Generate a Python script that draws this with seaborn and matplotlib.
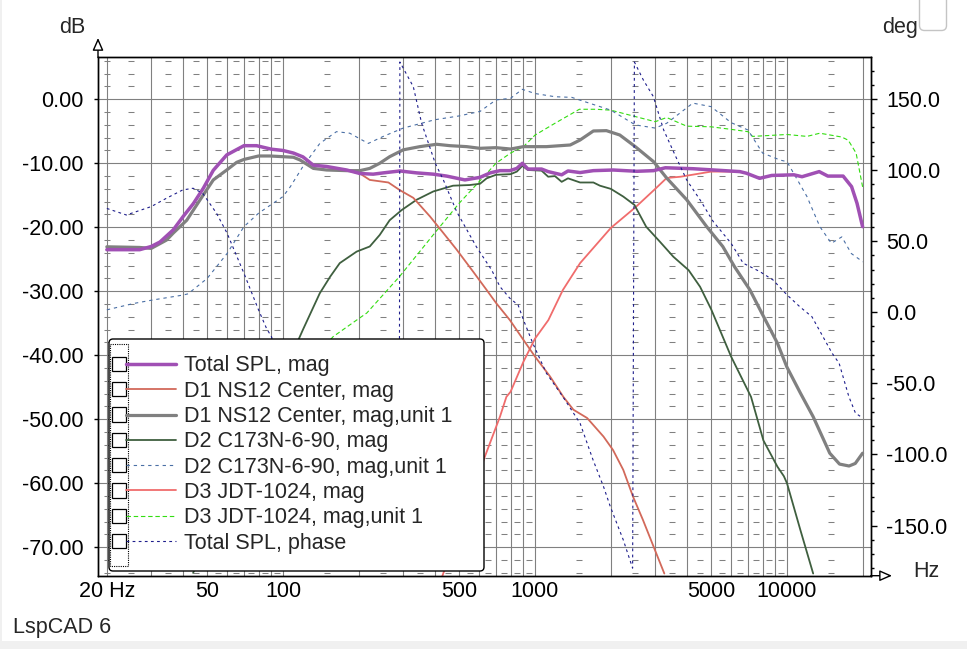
import numpy as np
import pandas as pd
import matplotlib
matplotlib.use("Agg")
import matplotlib.pyplot as plt
import seaborn as sns
from matplotlib.lines import Line2D
from matplotlib.patches import Rectangle, FancyBboxPatch, FancyArrowPatch
from matplotlib.legend_handler import HandlerBase
from matplotlib.transforms import Affine2D
from matplotlib.ticker import FixedLocator, FixedFormatter, MultipleLocator, FormatStrFormatter, NullFormatter

# ---------------- data ----------------
total_f = [20, 27, 30, 32.5, 36.7, 40.2, 44.1, 48.3, 52.9, 59.8, 70, 78.6, 90, 100, 110, 120, 132, 149, 179, 202,
           228, 250, 291, 339, 395, 446, 527, 605, 664, 726, 795, 847, 891, 938, 1062, 1128, 1276, 1352, 1510, 1705,
           2042, 2535, 2955, 3290, 4240, 5125, 6500, 6900, 7780, 8700, 10650, 11470, 13420, 14520, 16700, 18040,
           18960, 19950]
total_db = [-23.5, -23.5, -23.0, -22.3, -20.4, -18.3, -16.3, -13.9, -11.1, -8.7, -7.25, -7.25, -7.8, -8.0, -8.4,
            -9.0, -10.3, -10.5, -11.05, -11.6, -11.7, -11.5, -11.2, -11.5, -11.7, -12.0, -12.6, -12.2, -11.5, -11.15,
            -11.15, -10.8, -10.0, -10.9, -10.9, -11.3, -11.8, -11.2, -11.45, -11.15, -11.05, -11.25, -11.15, -10.7,
            -10.85, -11.05, -11.3, -11.55, -12.35, -11.9, -11.8, -12.1, -11.3, -12.0, -12.0, -13.65, -16.25, -19.9]

d1_f = [20, 27, 30, 32.5, 36.7, 40.2, 44.1, 48.3, 52.9, 59.8, 70, 78.6, 90, 100, 110, 120, 132, 149, 179, 202,
        221, 262, 291, 329, 383, 433, 489, 570, 643, 703, 795, 900, 1000, 1147, 1296, 1420, 1610, 1870, 2040, 2240,
        2450, 2680, 2990, 3260]
d1_db = [-23.5, -23.5, -23.0, -22.3, -20.4, -18.3, -16.3, -13.9, -11.1, -8.7, -7.25, -7.25, -7.8, -8.0, -8.4,
         -9.0, -10.3, -10.6, -11.1, -11.6, -12.6, -13.0, -14.2, -15.4, -18.3, -20.9, -23.5, -27.0, -29.8, -31.9,
         -34.5, -37.6, -40.2, -43.3, -46.5, -48.5, -49.8, -52.7, -54.8, -57.9, -62.1, -65.7, -70.4, -74.1]

d1u_f = [20, 27, 30, 34.5, 36.7, 41.5, 46.9, 52.9, 59.8, 65.5, 70, 80, 88.8, 100, 110, 116.8, 132, 149, 179, 202,
         221, 242, 265, 300, 349, 407, 460, 536, 605, 700, 800, 900, 1000, 1110, 1380, 1510, 1705, 1920, 2170, 2500,
         2955, 3330, 4000, 4800, 5560, 6200, 7130, 7940, 9160, 9980, 11300, 12700, 14780, 16160, 17630, 18660, 19950]
d1u_db = [-23.05, -23.15, -23.3, -22.0, -20.9, -18.9, -15.7, -12.6, -11.05, -9.85, -9.4, -8.86, -8.86, -8.97,
          -9.06, -9.48, -10.8, -11.05, -11.15, -11.15, -10.8, -10.0, -8.97, -7.9, -7.4, -7.03, -7.25, -7.4, -7.66,
          -7.56, -7.77, -7.4, -7.4, -7.4, -7.14, -6.36, -4.95, -4.9, -5.58, -7.4, -9.75, -12.3, -15.7, -19.9, -23.0,
          -26.2, -29.8, -33.4, -38.1, -41.8, -45.9, -49.6, -55.3, -57.0, -57.3, -56.9, -55.3]

d2_f = [44, 60, 80, 100, 120, 140, 154, 168, 196, 221, 242, 265, 296, 339, 395, 473, 550, 605, 643, 700, 800, 847,
        891, 938, 1062, 1128, 1200, 1276, 1352, 1510, 1705, 1810, 2000, 2240, 2480, 2760, 3130, 3540, 4070, 4520,
        5000, 6000, 7200, 8060, 9160, 9720, 10000, 11300, 12700]
d2_db = [-74.0, -62.0, -51.0, -43.0, -36.0, -30.3, -27.7, -25.6, -23.8, -23.0, -21.2, -18.9, -17.3, -15.7, -14.4,
         -13.5, -13.4, -13.2, -12.35, -11.8, -11.7, -11.3, -10.4, -11.05, -11.15, -12.1, -12.0, -12.9, -12.35,
         -13.0, -13.0, -13.5, -14.0, -15.2, -16.5, -19.9, -22.25, -24.6, -26.7, -29.3, -32.8, -40.2, -46.5, -53.3,
         -57.4, -58.9, -60.0, -67.3, -74.1]

d2u_f = [20, 25.6, 30, 40, 42, 50, 60, 70, 80, 100, 107, 120, 140, 163, 184, 218, 250, 300, 400, 500, 605, 700,
         800, 890, 1000, 1200, 1400, 1500, 2000, 2500, 3000, 3330, 4230, 5000, 6000, 7000, 8000, 9400, 10000,
         12000, 13500, 15000, 16500, 18000, 20000]
d2u_db = [-32.9, -31.9, -31.4, -30.6, -30.4, -28.0, -24.1, -19.9, -17.8, -15.2, -13.65, -10.5, -6.9, -5.06, -5.3,
          -6.9, -5.8, -4.5, -3.2, -2.6, -1.9, -0.1, 0.15, 1.56, 0.9, 0.4, 0.3, -0.1, -1.7, -4.0, -4.5, -3.75, -0.6,
          -1.15, -3.65, -4.8, -8.4, -9.5, -9.75, -15.2, -19.9, -22.5, -21.5, -24.1, -25.4]

d3_f = [420, 633, 726, 770, 800, 900, 1000, 1130, 1290, 1510, 2000, 2500, 3000, 3330, 3780, 5000, 6500, 6900,
        7780, 8700, 10650, 11470, 13420, 14520, 16700, 18040, 18960, 19950]
d3_db = [-75.5, -55.8, -49.6, -46.5, -45.7, -41.0, -37.4, -34.5, -29.8, -25.6, -20.1, -16.9, -14.0, -12.3, -12.1,
         -11.3, -11.3, -11.55, -12.35, -11.9, -11.8, -12.1, -11.3, -12.0, -12.0, -13.65, -16.25, -19.9]

d3u_f = [100, 158, 196, 215, 290, 400, 500, 643, 700, 800, 900, 1000, 1200, 1500, 1750, 2000, 2500, 3000, 3330,
         4000, 5000, 6000, 7000, 7300, 10000, 12000, 13500, 16500, 17500, 18800, 20000]
d3u_db = [-46.0, -37.1, -34.5, -33.4, -27.7, -20.9, -16.25, -11.6, -10.0, -8.4, -7.4, -5.6, -3.75, -1.56, -1.56,
          -1.7, -2.7, -3.5, -2.85, -4.2, -4.3, -4.7, -5.06, -5.8, -5.5, -5.8, -5.3, -5.9, -6.4, -8.4, -13.9]

phase_f = [20, 23.9, 30, 34.5, 40, 44, 48, 54.5, 60, 70, 80, 86, 90, 100, 150, 200, 250, 289, 291, 329, 355, 402,
           433, 489, 585, 673, 726, 795, 857, 900, 980, 1110, 1290, 1510, 1700, 1870, 1990, 2240, 2440, 2480, 2690,
           2950, 3240, 3620, 4000, 4520, 5100, 6000, 6700, 7800, 8800, 10000, 11300, 12550, 15100, 16100, 17600,
           18700, 19600]
phase_deg = [73, 68.4, 74.3, 80.2, 86.0, 87.2, 83.7, 69.6, 55.6, 27.4, 1.6, -11.3, -17.2, -40, -100, -135, -162,
             -180, 176, 158.6, 132.9, 104.8, 93, 70.7, 46.1, 29.7, 18, 9.8, 5.1, -5.4, -21.8, -42.9, -59.4, -78.1,
             -103.9, -122.6, -136.7, -160.1, -180, 176, 163.4, 151.6, 128.2, 109.4, 93, 79, 63.7, 48.5, 34.5, 28.6,
             22.7, 12.2, 3.5, -3.1, -28.8, -35.9, -59.4, -71, -73.4]

legend_labels = ["Total SPL, mag", "D1 NS12 Center, mag", "D1 NS12 Center, mag,unit 1", "D2 C173N-6-90, mag",
                 "D2 C173N-6-90, mag,unit 1", "D3 JDT-1024, mag", "D3 JDT-1024, mag,unit 1", "Total SPL, phase"]

grid_f = [20, 30, 40, 50, 60, 70, 80, 90, 100, 200, 300, 400, 500, 600, 700, 800, 900,
          1000, 2000, 3000, 4000, 5000, 6000, 7000, 8000, 9000, 10000, 20000]
xtick_f = [20, 50, 100, 500, 1000, 5000, 10000]
xtick_labels = ["20 Hz", "50", "100", "500", "1000", "5000", "10000"]
deg_ticks = [-150, -100, -50, 0, 50, 100, 150]

# ---------------- styling ----------------
sns.set_style("white")
plt.rcParams["font.family"] = ["Liberation Sans", "DejaVu Sans"]
FS = 15.5
plt.rcParams["font.size"] = FS

W, H = 967, 649
fig = plt.figure(figsize=(W / 100, H / 100), dpi=100)
fig.patch.set_facecolor("white")
pix = Affine2D().scale(1.0 / W, -1.0 / H).translate(0, 1) + fig.transFigure

L, R, T, B = 98, 870.7, 57.3, 575.7
ax = fig.add_axes([L / W, 1 - B / H, (R - L) / W, (B - T) / H])
ax.set_xscale("log")
ax2 = ax.twinx()

GRID = "#808080"
styles = [
    ("#a050b4", 2.5, "-"),
    ("#d2695a", 1.3, "-"),
    ("#808080", 2.3, "-"),
    ("#3f5f3f", 1.3, "-"),
    ("#4a6fa5", 0.8, (0, (3, 3.5))),
    ("#f06c6c", 1.3, "-"),
    ("#33dd11", 0.8, (0, (4, 2.5))),
    ("#1e1e8c", 0.8, (0, (2.5, 3))),
]
series = [(total_f, total_db), (d1_f, d1_db), (d1u_f, d1u_db), (d2_f, d2_db),
          (d2u_f, d2u_db), (d3_f, d3_db), (d3u_f, d3u_db)]


def draw(axis, f, v, color, lw, ls, z):
    df = pd.DataFrame({"f": f, "v": v})
    sns.lineplot(data=df, x="f", y="v", ax=axis, color=color, linewidth=lw, linestyle=ls,
                 estimator=None, sort=False, zorder=z)


# draw in reverse legend order so the total magnitude lies on top
for i in range(len(series) - 1, -1, -1):
    f, v = series[i]
    c, lw, ls = styles[i]
    draw(ax, f, v, c, lw, ls, 2 + (len(series) - i) * 0.01)
c, lw, ls = styles[7]
draw(ax2, phase_f, phase_deg, c, lw, ls, 2)

# minor horizontal dash marks (every 2 dB, mid-column)
dash_f = [20] + [(k + 0.5) * 10 for k in range(2, 10)] + [(k + 0.5) * 100 for k in range(1, 10)] \
    + [(k + 0.5) * 1000 for k in range(1, 10)] + [15000]
dash_y = [v for v in range(-74, 7, 2) if v % 10 != 0]
DX, DY = np.meshgrid(dash_f, dash_y)
ax.plot(DX.ravel(), DY.ravel(), ls="none", marker="_", ms=3.8, mew=0.75, color=GRID, zorder=1.5)

# axes ranges
ax.set_xlim(18.45, 21484)
ax.set_ylim(-74.44, 6.56)
ax2.set_ylim(-185.3, 179.3)
for a in (ax, ax2):
    a.set_xlabel("")
    a.set_ylabel("")
    a.grid(False)

ax.xaxis.set_major_locator(FixedLocator(xtick_f))
ax.xaxis.set_major_formatter(FixedFormatter(xtick_labels))
ax.xaxis.set_minor_locator(FixedLocator(grid_f))
ax.xaxis.set_minor_formatter(NullFormatter())
ax.yaxis.set_major_locator(MultipleLocator(10))
ax.yaxis.set_major_formatter(FormatStrFormatter("%.2f"))
ax.grid(True, which="both", axis="x", color=GRID, lw=0.8)
ax.grid(True, which="major", axis="y", color=GRID, lw=0.8)
ax.set_axisbelow(True)

ax2.yaxis.set_major_locator(FixedLocator(deg_ticks))
ax2.yaxis.set_major_formatter(FormatStrFormatter("%.1f"))
ax2.yaxis.set_minor_locator(MultipleLocator(10))

ax.tick_params(axis="x", which="both", length=0, pad=4, labelsize=FS, colors="black")
ax.tick_params(axis="y", which="major", left=True, length=3, width=1, direction="out", pad=7.5,
               labelsize=FS, color="black", labelcolor="black")
ax.tick_params(axis="y", which="minor", left=False)
ax2.tick_params(axis="y", which="major", right=True, length=4, width=1, direction="out", pad=7,
                labelsize=FS, color="black", labelcolor="black")
ax2.tick_params(axis="y", which="minor", right=True, length=2.5, width=1, direction="out", color="black")

for a in (ax, ax2):
    for sp in a.spines.values():
        sp.set_color("black")
        sp.set_linewidth(1.0)

# axis arrows
for p0, p1 in (((L, T), (L, 38)), ((R, B), (892, B))):
    fig.add_artist(FancyArrowPatch(p0, p1, transform=pix, arrowstyle="-|>,head_length=7.5,head_width=3.3",
                                   mutation_scale=1, fc="white", ec="black", lw=1.0, shrinkA=0, shrinkB=0,
                                   zorder=3))

# legend with check boxes
class CheckHandler(HandlerBase):
    def create_artists(self, legend, orig_handle, xdescent, ydescent, width, height, fontsize, trans):
        s = 10.2
        yc = height / 2 - ydescent
        x0 = -xdescent
        box = Rectangle((x0, yc - s / 2), s, s, facecolor="white", edgecolor="black", lw=0.9, transform=trans)
        ln = Line2D([x0 + s + 0.5, x0 + width], [yc, yc])
        ln.update_from(orig_handle)
        ln.set_transform(trans)
        return [box, ln]


handles = [Line2D([], [], color=c, lw=lw, ls=ls) for c, lw, ls in styles]

frame = FancyBboxPatch((109, 339), 375, 232, boxstyle="round,pad=0,rounding_size=4", fc="white",
                       ec="black", lw=1.0, transform=pix, zorder=4)
fig.add_artist(frame)
fig.add_artist(Rectangle((109.5, 344), 18.5, 221.5, fill=False, ec="black", lw=0.8, ls=(0, (1, 1)),
                         transform=pix, zorder=4.2))
fig.legend(handles, legend_labels, handler_map={Line2D: CheckHandler()}, loc="upper left",
           bbox_to_anchor=(111.5 / W, 1 - 355.5 / H), bbox_transform=fig.transFigure, frameon=False,
           borderpad=0, borderaxespad=0, handlelength=2.98, handletextpad=0.4, labelspacing=0.2,
           fontsize=FS, handleheight=0.7)

# texts
fig.text(59 / W, 1 - 32.7 / H, "dB", ha="left", va="baseline", fontsize=FS)
fig.text(881.7 / W, 1 - 32.7 / H, "deg", ha="left", va="baseline", fontsize=FS)
fig.text(913.3 / W, 1 - 577.3 / H, "Hz", ha="left", va="baseline", fontsize=FS)
fig.text(12.7 / W, 1 - 633.3 / H, "LspCAD 6", ha="left", va="baseline", fontsize=FS)

# window decorations
fig.add_artist(FancyBboxPatch((919.5, -6), 27, 36.5, boxstyle="round,pad=0,rounding_size=5", fc="white",
                              ec="#c4c4c4", lw=1.0, transform=pix, zorder=1))
fig.add_artist(Rectangle((0, 641), W, 10, fc="#f0f0f0", ec="none", transform=pix, zorder=1))
fig.add_artist(Rectangle((0, 0), 2, H, fc="#f0f0f0", ec="none", transform=pix, zorder=1))

fig.savefig("out.png", dpi=100)
